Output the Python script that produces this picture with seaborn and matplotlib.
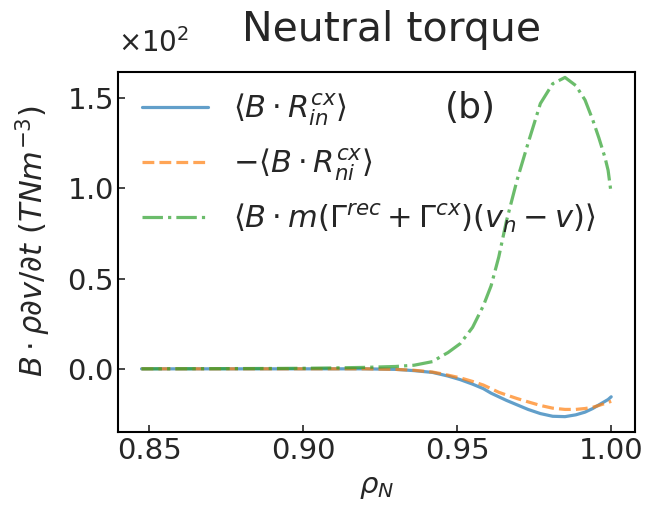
import numpy as np
import pandas as pd
import matplotlib
matplotlib.use("Agg")
import matplotlib.pyplot as plt
import seaborn as sns
from matplotlib.ticker import ScalarFormatter

# ---- data (torque values in TNm^-3) ----
rho = [0.8475, 0.87, 0.89, 0.90, 0.91, 0.92, 0.93, 0.936, 0.942, 0.9445, 0.947,
       0.951, 0.955, 0.9585, 0.961, 0.9635, 0.966, 0.9695, 0.973, 0.977, 0.981,
       0.985, 0.9885, 0.9915, 0.994, 0.996, 0.998, 0.999, 1.0]
R_in = [0, 0, 0, 0, 0, 0, -0.3, -1.0, -2.0, -3.0, -4.0,
        -6.0, -8.5, -11.0, -13.5, -15.5, -17.5, -20.0, -22.5, -24.8, -26.3,
        -26.5, -25.5, -24.0, -22.0, -20.0, -18.0, -17.0, -15.5]
R_ni = [0, 0, 0, 0, 0, 0, -0.3, -0.8, -1.8, -2.6, -3.5,
        -5.0, -7.0, -9.0, -11.0, -13.0, -14.5, -16.5, -18.3, -20.3, -21.8,
        -22.5, -22.5, -22.0, -21.3, -20.3, -19.2, -18.6, -18.0]
G_term = [0, 0.1, 0.2, 0.3, 0.5, 0.8, 1.3, 2.0, 4.0, 6.6, 9.0,
          14.0, 23.0, 35.0, 46.0, 62.0, 82.0, 105.0, 125.0, 147.0, 158.0,
          161.5, 157.0, 149.0, 138.0, 128.0, 117.0, 110.0, 97.0]

labels = [r'$\langle B \cdot R_{in}^{cx} \rangle$',
          r'$-\langle B \cdot R_{ni}^{cx} \rangle$',
          r'$\langle B \cdot m(\Gamma^{rec}+\Gamma^{cx})(v_n - v) \rangle$']

sns.set_style("white")
plt.rcParams['font.family'] = ['DejaVu Sans']

fig = plt.figure(figsize=(6.45, 5.05), dpi=100)
ax = fig.add_axes([0.183, 0.1446, 0.801, 0.7128])

series = [R_in, R_ni, G_term]
colors = ['#1f77b4', '#ff7f0e', '#2ca02c']
styles = ['-', '--', '-.']
for vals, lab, c, ls in zip(series, labels, colors, styles):
    df = pd.DataFrame({'rho': rho, 'val': vals})
    sns.lineplot(data=df, x='rho', y='val', ax=ax, color=c, linestyle=ls,
                 linewidth=2.3, alpha=0.7, label=lab)

ax.set_ylim(-35, 164.5)
ax.set_xticks([0.85, 0.90, 0.95, 1.00])
fmt = ScalarFormatter(useMathText=True)
fmt.set_powerlimits((0, 0))
ax.yaxis.set_major_formatter(fmt)
ax.yaxis.get_offset_text().set_visible(False)
ax.text(0.0, 1.04, r'$\times10^{2}$', transform=ax.transAxes, fontsize=20,
        ha='left', va='bottom')

ax.tick_params(direction='in', labelsize=21, length=5, width=1.2,
               bottom=True, left=True, top=False, right=False)
for s in ax.spines.values():
    s.set_linewidth(1.5)
    s.set_color('black')

ax.set_xlabel(r'$\rho_N$', fontsize=21, labelpad=6)
ax.set_ylabel(r'$B\cdot\rho\partial v/\partial t\ (TNm^{-3})$', fontsize=22)
ax.yaxis.set_label_coords(-0.125, 0.53)
ax.set_title('Neutral torque', fontsize=29.5, x=0.53, pad=22)

ax.text(0.632, 0.90, '(b)', transform=ax.transAxes, fontsize=26, va='center')

leg = ax.legend(loc='upper left', bbox_to_anchor=(0.0, 1.013), frameon=False,
                fontsize=22, handlelength=2.13, handletextpad=0.82,
                borderaxespad=0.4, labelspacing=0.6)

fig.savefig('out.png', dpi=100)
